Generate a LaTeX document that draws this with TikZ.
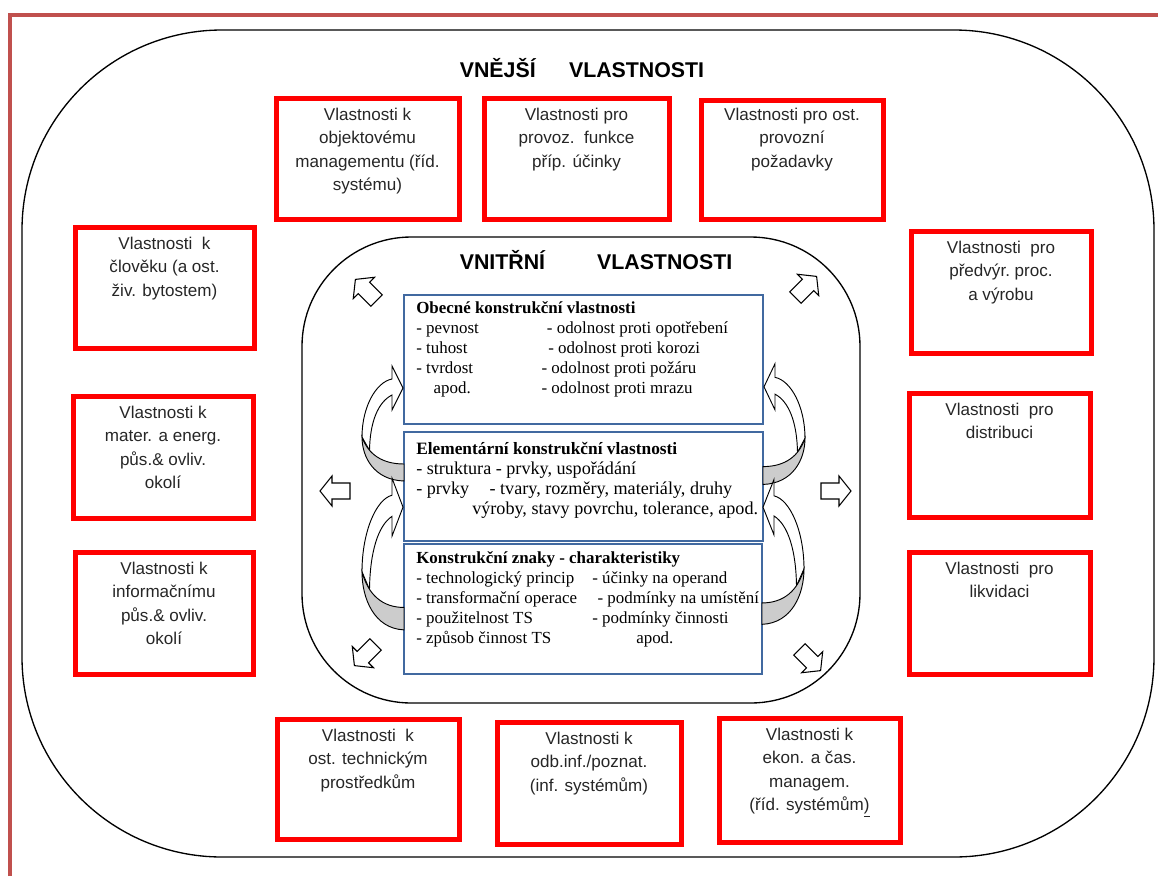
\documentclass[tikz,border=0pt]{standalone}
\usepackage{fontspec}
\setmainfont{Liberation Serif}
\setsansfont{Liberation Sans}
\usepackage{tikz}
\usetikzlibrary{arrows.meta,calc,positioning}

\definecolor{ramec}{RGB}{192,80,77}
\definecolor{modra}{RGB}{65,105,160}
\newcommand{\kol}[2]{\makebox[#1][l]{#2}}
\newcommand{\ramecek}[6]{%
  \node[#1,minimum width={(#5-#3)*0.75pt},minimum height={(#6-#4)*0.75pt}] (#2) at ({(#3+#5)/2},{(#4+#6)/2}) {};}

\tikzset{
  ohnsipka/.pic={
    \draw[fill=white,line width=0.7pt] (-42,-35) .. controls (-42,-65) and (-28,-90) .. (-12,-93)
      -- (-12,-106) -- (-1,-84) -- (-12,-62) -- (-12,-77)
      .. controls (-26,-70) and (-34,-50) .. (-34.5,-21.6) -- cycle;
    \draw[fill=black!20,line width=0.7pt] (0,9) .. controls (-30,8) and (-42,-15) .. (-42,-35)
      .. controls (-36,-18) and (-22,-8) .. (0,-8) -- cycle;
  },
  blksipka/.pic={
    \draw[fill=white,line width=0.8pt] (-15,-8) -- (3,-8) -- (3,-15) -- (15,0) -- (3,15) -- (3,8) -- (-15,8) -- cycle;
  }
}

\begin{document}
\begin{tikzpicture}[x=0.75pt,y=-0.75pt,
  cervbox/.style={draw=red,line width=3.75pt,outer sep=0pt},
  cervtext/.style={font=\sffamily\fontsize{12.8}{17.5}\selectfont,text=black!85,align=center,inner sep=0pt,anchor=north},
  modrbox/.style={draw=modra,line width=1.1pt,outer sep=0pt},
  modrtext/.style={font=\fontsize{12.7}{15}\selectfont,align=left,inner sep=0pt,anchor=north west},
  titul/.style={font=\sffamily\bfseries\fontsize{16}{19}\selectfont,inner sep=0pt},
  obal/.style={draw,line width=1pt,outer sep=0pt}]

\useasboundingbox (0,0) rectangle (1158,876);
\draw[ramec,line width=3pt] (9.5,876) -- (9.5,15) -- (1158,15);

\ramecek{obal,rounded corners=150pt}{vnejsi}{22}{30}{1154}{857}
\ramecek{obal,rounded corners=82pt}{vnitrni}{302}{237}{860}{703}
\node[titul] (vnejsi-t) at (582,68) {VNĚJŠÍ\hspace{25pt}VLASTNOSTI};
\node[titul] (vnitrni-t) at (596,260) {VNITŘNÍ\hspace{39pt}VLASTNOSTI};

\ramecek{cervbox}{obj}{276}{98}{459}{219}
\node[cervtext] (obj-t) at ($(obj.north)+(0,10)$) {Vlastnosti k\\objektovému\\managementu (říd.\\systému)};
\ramecek{cervbox}{provoz}{484}{98}{669}{219}
\node[cervtext] (provoz-t) at ($(provoz.north)+(0,10)$) {Vlastnosti pro\\provoz.\ \ funkce\\příp. účinky};
\ramecek{cervbox}{ostprov}{701}{100}{883}{219}
\node[cervtext] (ostprov-t) at ($(ostprov.north)+(0,8)$) {Vlastnosti pro ost.\\provozní\\požadavky};
\ramecek{cervbox}{clov}{75}{227}{254}{348}
\node[cervtext] (clov-t) at ($(clov.north)+(0,10)$) {Vlastnosti\ \ k\\člověku (a ost.\\živ. bytostem)};
\ramecek{cervbox}{mater}{73}{396}{253}{518}
\node[cervtext] (mater-t) at ($(mater.north)+(0,10)$) {Vlastnosti k\\mater. a energ.\\půs.\& ovliv.\\okolí};
\ramecek{cervbox}{inform}{75}{552}{253}{674}
\node[cervtext] (inform-t) at ($(inform.north)+(0,10)$) {Vlastnosti k\\informačnímu\\půs.\& ovliv.\\okolí};
\ramecek{cervbox}{predvyr}{911}{231}{1091}{353}
\node[cervtext] (predvyr-t) at ($(predvyr.north)+(0,10)$) {Vlastnosti\ \ pro\\předvýr.\ proc.\\a výrobu};
\ramecek{cervbox}{distr}{909}{393}{1090}{517}
\node[cervtext] (distr-t) at ($(distr.north)+(0,10)$) {Vlastnosti\ \ pro\\distribuci};
\ramecek{cervbox}{likv}{909}{552}{1090}{674}
\node[cervtext] (likv-t) at ($(likv.north)+(0,10)$) {Vlastnosti\ \ pro\\likvidaci};
\ramecek{cervbox}{techn}{277}{719}{459}{839}
\node[cervtext] (techn-t) at ($(techn.north)+(0,10)$) {Vlastnosti\ \ k\\ost. technickým\\prostředkům};
\ramecek{cervbox}{odbinf}{497}{722}{681}{844}
\node[cervtext] (odbinf-t) at ($(odbinf.north)+(0,10)$) {Vlastnosti k\\odb.inf./poznat.\\(inf. systémům)};
\ramecek{cervbox}{ekon}{719}{718}{900}{842}
\node[cervtext] (ekon-t) at ($(ekon.north)+(0,10)$) {Vlastnosti k\\ekon. a čas.\\managem.\\(říd. systémům\underline{)}};

\ramecek{modrbox}{obecne}{404}{295}{763}{424}
\node[modrtext] (obecne-t) at ($(obecne.north west)+(12,6)$) {\textbf{Obecné konstrukční vlastnosti}\\
  \kol{98pt}{- pevnost}- odolnost proti opotřebení\\
  \kol{99pt}{- tuhost}- odolnost proti korozi\\
  \kol{94pt}{- tvrdost}- odolnost proti požáru\\
  \kol{94pt}{\hspace{13pt}apod.}- odolnost proti mrazu};
\ramecek{modrbox}{element}{404}{432}{763}{541}
\node[modrtext,font=\fontsize{13.6}{15}\selectfont] (element-t) at ($(element.north west)+(12,10)$) {{\fontsize{13}{15}\selectfont\bfseries Elementární konstrukční vlastnosti}\\
  - struktura - prvky, uspořádání\\
  \kol{55pt}{- prvky}- tvary, rozměry, materiály, druhy\\
  \hspace{42pt}výroby, stavy povrchu, tolerance, apod.};
\ramecek{modrbox}{znaky}{404}{544}{762}{674}
\node[modrtext] (znaky-t) at ($(znaky.north west)+(12,7)$) {\textbf{Konstrukční znaky - charakteristiky}\\
  \kol{132pt}{- technologický princip}- účinky na operand\\
  \kol{136pt}{- transformační operace}- podmínky na umístění\\
  \kol{132pt}{- použitelnost TS}- podmínky činnosti\\
  \kol{165pt}{- způsob činnost TS}apod.};

\pic at ($(element.north west)+(0,40)$) {ohnsipka};
\pic[yscale=1.32] at ($(znaky.north west)+(0,74)$) {ohnsipka};
\pic[xscale=-1,yscale=1.05] at ($(element.north east)+(0,43)$) {ohnsipka};
\pic[xscale=-1,yscale=1.26] at ($(znaky.north east)+(0,69)$) {ohnsipka};

\pic[rotate=135] at (366,290) {blksipka};
\pic[rotate=180] at (335,491) {blksipka};
\pic[rotate=225] at (365,655) {blksipka};
\pic[rotate=45] at (806,287) {blksipka};
\pic at (836,491) {blksipka};
\pic[rotate=-45] at (810,660) {blksipka};
\end{tikzpicture}
\end{document}
